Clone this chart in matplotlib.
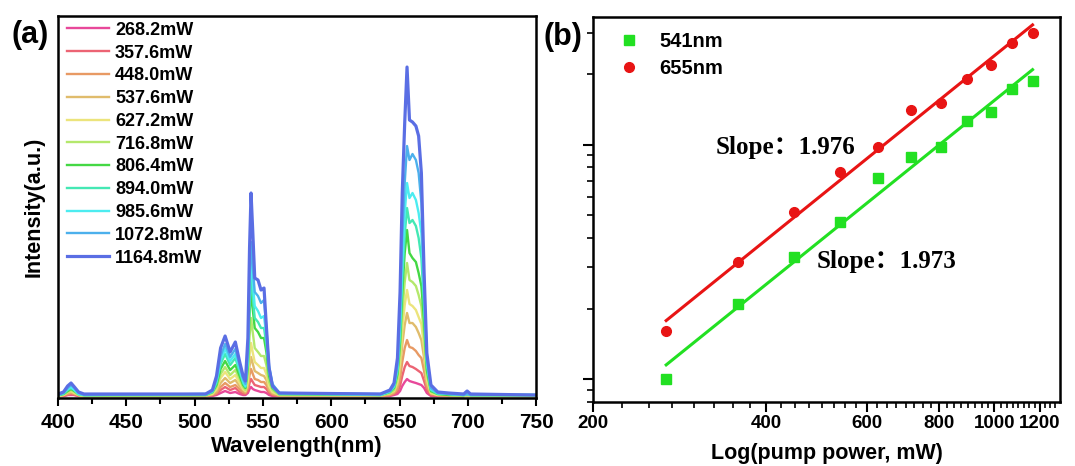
import numpy as np
import matplotlib
matplotlib.use('Agg')
import matplotlib.pyplot as plt
from matplotlib.ticker import FixedLocator, NullFormatter, LogLocator, MultipleLocator

plt.rcParams['font.family'] = ['Liberation Sans', 'DejaVu Sans']
plt.rcParams['font.weight'] = 'bold'

# pump powers (mW) and the colour used for each spectrum
powers = [268.2, 357.6, 448.0, 537.6, 627.2, 716.8, 806.4, 894.0, 985.6, 1072.8, 1164.8]
colors = ['#e8489a', '#ec6474', '#e89a64', '#e0bc6c', '#ece47c', '#b4e86c',
          '#44d844', '#44e8b4', '#4cecf0', '#4cb0ec', '#5a6ee4']

# wavelength samples (nm): violet bump, green band, red band, tail
wl = ([400, 404, 407, 409.5, 412, 415, 419] +
      [508, 513, 516, 519, 522.3, 526, 529.8, 533, 535.5, 537.2, 539, 540.2, 541.3,
       542.6, 544, 546.4, 548.6, 550.8, 552.5, 554.5, 557, 562] +
      [636, 643, 646, 648.5, 650.4, 652, 653.8, 655.5, 657.3, 659.5, 662, 664, 666,
       668, 670, 673, 678, 686] +
      [697, 699.5, 702, 750])

# emission intensity (a.u.) at each wavelength, one row per pump power
spectra = [
    [2, 2, 3, 3, 3, 2, 2,
     2, 2, 3, 5, 7, 5, 6, 4, 3, 3, 5, 9, 11, 9, 8, 7, 6, 6, 5, 3, 2, 2,
     2, 2, 3, 4, 7, 12, 16, 19, 17, 16, 15, 14, 13, 10, 5, 2, 2, 2,
     2, 3, 2, 2],
    [2, 2, 3, 4, 3, 2, 2,
     2, 3, 4, 8, 11, 8, 10, 6, 4, 4, 7, 15, 19, 16, 13, 12, 11, 11, 9, 5, 3, 2,
     2, 3, 4, 6, 12, 22, 31, 36, 32, 31, 29, 27, 25, 17, 8, 3, 2, 2,
     2, 3, 2, 2],
    [2, 3, 4, 5, 4, 3, 2,
     2, 3, 5, 11, 15, 11, 13, 9, 6, 5, 10, 23, 29, 24, 19, 18, 16, 16, 13, 7, 4, 2,
     2, 3, 5, 9, 19, 36, 50, 58, 51, 50, 47, 43, 40, 27, 11, 4, 3, 2,
     2, 3, 2, 2],
    [2, 3, 5, 6, 5, 3, 2,
     2, 4, 7, 15, 20, 15, 18, 12, 8, 6, 13, 32, 41, 34, 27, 25, 23, 22, 18, 9, 5, 3,
     2, 4, 6, 13, 28, 53, 73, 85, 75, 75, 71, 65, 58, 40, 15, 5, 3, 3,
     2, 3, 2, 2],
    [2, 3, 6, 7, 5, 3, 2,
     3, 4, 9, 20, 26, 19, 23, 15, 9, 7, 17, 43, 55, 45, 36, 33, 30, 30, 24, 12, 6, 3,
     3, 5, 7, 16, 36, 68, 93, 108, 94, 92, 88, 81, 74, 50, 19, 5, 3, 3,
     2, 3, 2, 2],
    [2, 4, 6, 8, 6, 3, 2,
     3, 5, 11, 24, 31, 23, 28, 19, 11, 8, 24, 62, 80, 65, 50, 46, 42, 42, 33, 16, 8, 3,
     3, 5, 8, 19, 45, 85, 116, 135, 118, 116, 112, 103, 92, 62, 23, 6, 4, 3,
     2, 3, 2, 2],
    [3, 4, 7, 9, 7, 4, 3,
     3, 6, 13, 29, 37, 28, 33, 22, 13, 10, 32, 84, 108, 88, 70, 66, 60, 60, 46, 22, 10, 4,
     3, 6, 10, 24, 56, 105, 145, 168, 145, 140, 136, 125, 112, 76, 28, 7, 4, 3,
     3, 4, 3, 3],
    [3, 4, 8, 10, 8, 4, 3,
     3, 6, 15, 34, 44, 33, 40, 26, 15, 11, 36, 95, 122, 100, 80, 76, 70, 70, 54, 26, 11, 4,
     3, 6, 11, 27, 64, 120, 163, 190, 175, 178, 172, 160, 140, 90, 33, 8, 4, 4,
     3, 4, 3, 3],
    [3, 5, 9, 11, 8, 4, 3,
     4, 7, 17, 38, 49, 37, 44, 29, 17, 12, 42, 110, 140, 115, 92, 87, 80, 82, 62, 30, 13, 5,
     3, 7, 12, 30, 72, 135, 185, 215, 200, 205, 198, 185, 165, 105, 38, 9, 5, 4,
     3, 4, 3, 3],
    [3, 5, 10, 13, 10, 5, 3,
     4, 7, 19, 42, 54, 41, 49, 32, 19, 14, 46, 120, 156, 130, 106, 102, 95, 98, 70, 32, 14, 5,
     4, 7, 13, 33, 85, 160, 215, 252, 238, 244, 238, 225, 195, 115, 40, 10, 5, 4,
     3, 4, 3, 3],
    [4, 6, 12, 15, 11, 6, 4,
     4, 8, 22, 50, 62, 46, 56, 36, 22, 17, 60, 150, 205, 165, 120, 118, 108, 110, 72, 30, 12, 5,
     4, 8, 15, 40, 106, 205, 275, 331, 278, 276, 272, 262, 225, 125, 45, 13, 6, 5,
     4, 7, 4, 3],
]

# integrated emission vs pump power for the two bands
green_int = [1000, 2085, 3305, 4702, 7237, 8892, 9806, 12650, 13810, 17310, 18720]
red_int = [1601, 3146, 5187, 7675, 9806, 14090, 15100, 19090, 21900, 27170, 29970]
slope_green = 1.973
slope_red = 1.976

fig = plt.figure(figsize=(10.75, 4.66), dpi=100)

# ---- (a) spectra ----
ax1 = fig.add_axes([0.054, 0.1459, 0.4447, 0.8197])
for i in range(len(powers)):
    lw = 2.3 if i == len(powers) - 1 else 1.7
    ax1.plot(wl, spectra[i], color=colors[i], lw=lw, label=f'{powers[i]:.1f}mW')
ax1.set_xlim(400, 750)
ax1.set_ylim(0, 382)
ax1.xaxis.set_major_locator(MultipleLocator(50))
ax1.xaxis.set_minor_locator(MultipleLocator(25))
ax1.set_yticks([])
ax1.tick_params(axis='x', which='major', direction='out', length=6, width=1.5,
                labelsize=15, pad=5)
ax1.tick_params(axis='x', which='minor', direction='out', length=4, width=1.5)
for lab in ax1.get_xticklabels():
    lab.set_fontweight('bold')
ax1.set_xlabel('Wavelength(nm)', fontsize=16, fontweight='bold', labelpad=3)
ax1.set_ylabel('Intensity(a.u.)', fontsize=15.5, fontweight='bold')
ax1.yaxis.set_label_coords(-0.029, 0.5)
for s in ax1.spines.values():
    s.set_linewidth(1.8)
ax1.legend(loc='upper left', bbox_to_anchor=(0.019, 0.985), frameon=False,
           handlelength=2.3, handletextpad=0.35, labelspacing=0.32,
           borderpad=0, borderaxespad=0, prop={'weight': 'bold', 'size': 13})

# ---- (b) power dependence ----
ax2 = fig.add_axes([0.5516, 0.1373, 0.4344, 0.8262])
ax2.set_xscale('log')
ax2.set_yscale('log')
ax2.plot(powers, green_int, 's', color='#22e022', ms=6.5, label='541nm', zorder=3)
ax2.plot(powers, red_int, 'o', color='#e81414', ms=7, label='655nm', zorder=3)

# straight-line fits in log-log space with the quoted slopes
lx = np.log10(powers)
for vals, k, c in [(green_int, slope_green, '#22e022'), (red_int, slope_red, '#e81414')]:
    b = np.mean(np.log10(vals) - k * lx)
    xs = np.array([powers[0], powers[-1]])
    ax2.plot(xs, 10 ** (b + k * np.log10(xs)), color=c, lw=2.2, zorder=2)

ax2.set_xlim(200, 1300)
ax2.set_ylim(800, 35000)
ax2.xaxis.set_major_locator(FixedLocator([200, 400, 600, 800, 1000, 1200]))
ax2.xaxis.set_minor_locator(FixedLocator([v for v in range(225, 1300, 25) if v % 200 != 0]))
ax2.xaxis.set_major_formatter(plt.FixedFormatter(['200', '400', '600', '800', '1000', '1200']))
ax2.xaxis.set_minor_formatter(NullFormatter())
ax2.yaxis.set_major_locator(LogLocator(base=10))
ax2.yaxis.set_minor_locator(LogLocator(base=10, subs=np.arange(2, 10)))
ax2.yaxis.set_major_formatter(NullFormatter())
ax2.yaxis.set_minor_formatter(NullFormatter())
ax2.tick_params(which='major', direction='out', length=7, width=1.5, labelsize=13.5, pad=2)
ax2.tick_params(which='minor', direction='out', length=4, width=1.2)
for lab in ax2.get_xticklabels():
    lab.set_fontweight('bold')
ax2.set_xlabel('Log(pump power, mW)', fontsize=15.5, fontweight='bold', labelpad=8)
for s in ax2.spines.values():
    s.set_linewidth(1.8)
ax2.legend(loc='upper left', bbox_to_anchor=(0.055, 0.96), frameon=False,
           handlelength=1.0, handletextpad=1.0, labelspacing=0.4,
           borderpad=0, borderaxespad=0, prop={'weight': 'bold', 'size': 14.5})

serif = ['Liberation Serif', 'Noto Sans CJK SC']
ax2.text(0.263, 0.662, f'Slope：{slope_red:.3f}', family=serif, fontsize=18,
         fontweight='bold', va='center', ha='left', transform=ax2.transAxes)
ax2.text(0.48, 0.364, f'Slope：{slope_green:.3f}', family=serif, fontsize=18,
         fontweight='bold', va='center', ha='left', transform=ax2.transAxes)

fig.text(0.028, 0.925, '(a)', fontsize=22, fontweight='bold', ha='center', va='center')
fig.text(0.524, 0.92, '(b)', fontsize=22, fontweight='bold', ha='center', va='center')

fig.savefig('out.png', dpi=100)
